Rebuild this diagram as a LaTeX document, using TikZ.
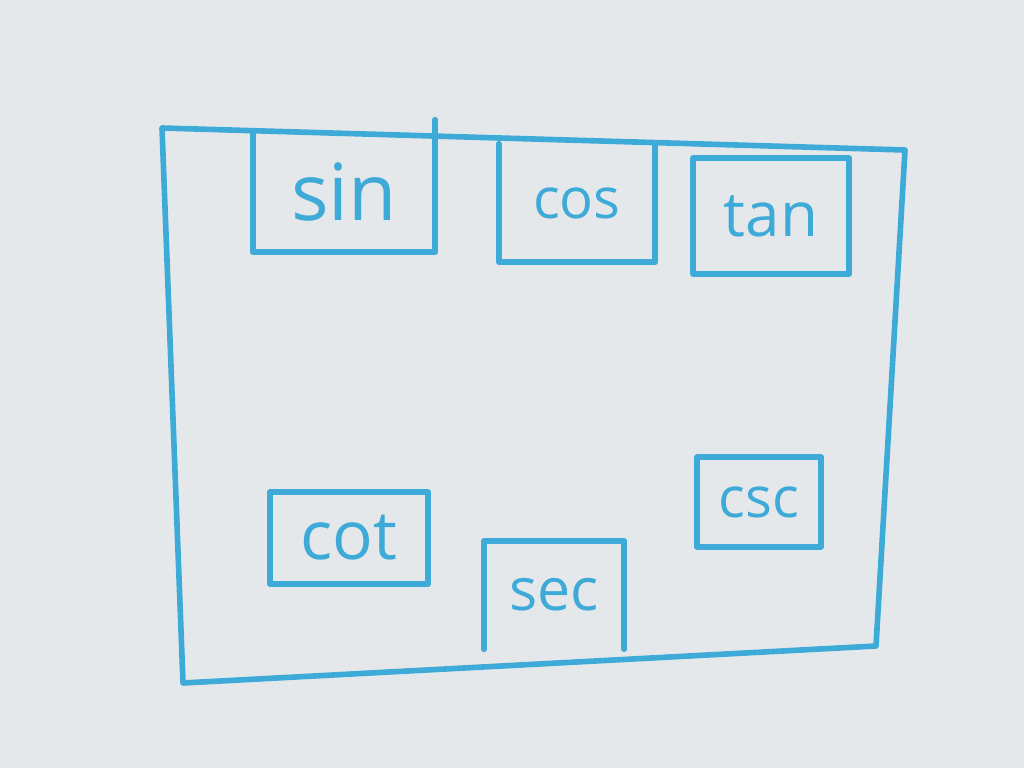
\documentclass[tikz,border=0pt]{standalone}
\usepackage{fontspec}
\setmainfont{Open Sans}
\usepackage{xcolor}
\usetikzlibrary{positioning}
\definecolor{marker}{RGB}{62,170,216}
\definecolor{board}{RGB}{228,232,235}
\tikzstyle{func} = [rectangle, draw=marker, line width=4pt, line join=round, text=marker, text centered]
\tikzstyle{openbox} = [rectangle, text=marker, text centered]
\tikzstyle{side} = [draw=marker, line width=4pt, line join=round, line cap=round]
\tikzstyle{frame} = [draw=marker, line width=4pt, line join=round]

\begin{document}
\begin{tikzpicture}[x=0.025cm, y=-0.025cm]

% Board
\fill[board] (0,0) rectangle (1024,768);
\useasboundingbox (0,0) rectangle (1024,768);

% Frame
\coordinate (frame-nw) at (162,128);
\coordinate (frame-ne) at (905,150);
\coordinate (frame-se) at (876,646);
\coordinate (frame-sw) at (183,683);
\draw [frame] (frame-nw) -- (frame-ne) -- (frame-se) -- (frame-sw) -- cycle;

% Top row (sin and cos hang from the frame)
\node (sin-box) [openbox, minimum width=4.55cm, minimum height=3.0cm, font=\fontsize{56}{60}\selectfont] at (344,192) {sin};
\draw [side] (sin-box.north west) -- (sin-box.south west) -- (sin-box.south east) -- ([yshift=0.3cm]sin-box.north east);

\node (cos-box) [openbox, minimum width=3.9cm, minimum height=2.95cm, font=\fontsize{40}{44}\selectfont] at (577,203) {cos};
\draw [side] (cos-box.north west) -- (cos-box.south west) -- (cos-box.south east) -- (cos-box.north east);

\node (tan-box) [func, minimum width=3.9cm, minimum height=2.9cm, font=\fontsize{44}{48}\selectfont] at (771,216) {tan};

% Bottom row
\node (cot-box) [func, minimum width=3.95cm, minimum height=2.3cm, font=\fontsize{48}{52}\selectfont] at (349,538) {cot};

\node (sec-box) [openbox, minimum width=3.5cm, minimum height=2.7cm, font=\fontsize{42}{46}\selectfont] at (554,595) {sec};
\draw [side] (sec-box.south west) -- (sec-box.north west) -- (sec-box.north east) -- (sec-box.south east);

\node (csc-box) [func, minimum width=3.1cm, minimum height=2.25cm, font=\fontsize{40}{44}\selectfont] at (759,502) {csc};

\end{tikzpicture}
\end{document}
